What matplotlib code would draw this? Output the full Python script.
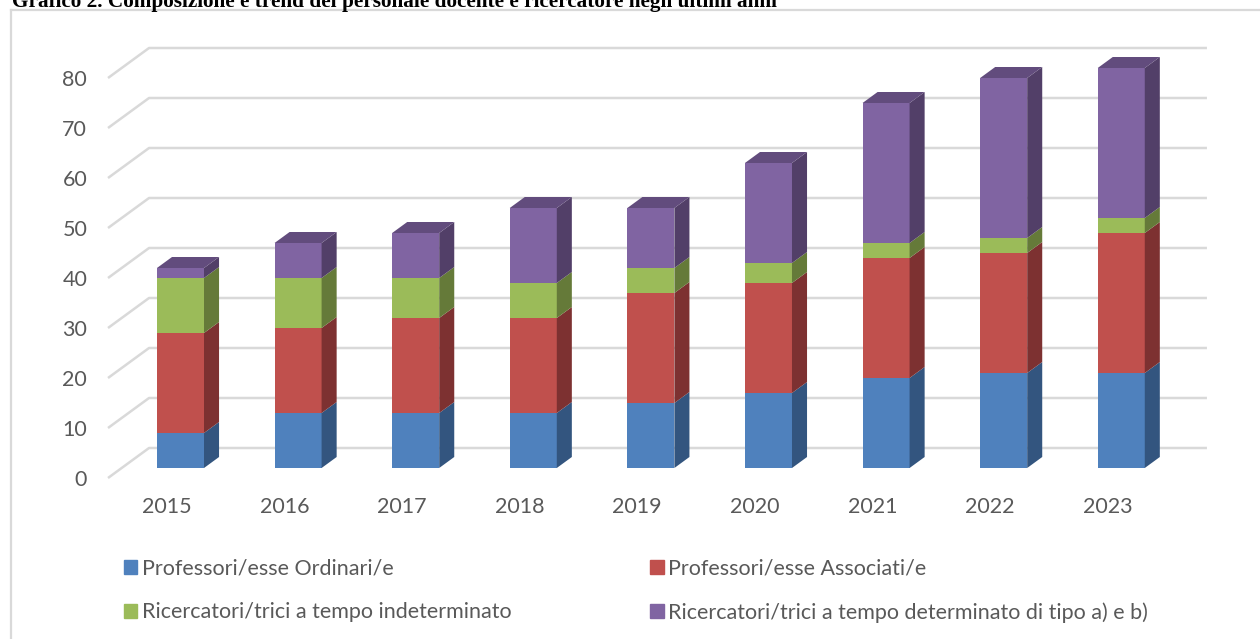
import matplotlib.pyplot as plt
from matplotlib.patches import Polygon, Patch
from matplotlib.lines import Line2D

anni = ["2015", "2016", "2017", "2018", "2019", "2020", "2021", "2022", "2023"]
ordinari = [7, 11, 11, 11, 13, 15, 18, 19, 19]
associati = [20, 17, 19, 19, 22, 22, 24, 24, 28]
indeterminato = [11, 10, 8, 7, 5, 4, 3, 3, 3]
determinato = [2, 7, 9, 15, 12, 20, 28, 32, 30]

serie = [
    ("Professori/esse Ordinari/e", ordinari, "#4F81BD", "#33557F"),
    ("Professori/esse Associati/e", associati, "#C0504D", "#7D3131"),
    ("Ricercatori/trici a tempo indeterminato", indeterminato, "#9BBB59", "#657A39"),
    ("Ricercatori/trici a tempo determinato di tipo a) e b)", determinato, "#8064A2", "#523F68"),
]
top_color = "#624C7D"

plt.rcParams["font.family"] = ["Lato", "DejaVu Sans"]
W, H = 1260, 639
fig = plt.figure(figsize=(W / 100, H / 100), dpi=100)

# chart frame (light grey box)
fig.add_artist(Line2D([11 / W, 1], [1 - 10 / H, 1 - 10 / H], color="#d9d9d9", lw=1.6))
fig.add_artist(Line2D([11 / W, 11 / W], [0, 1 - 10 / H], color="#d9d9d9", lw=1.6))
fig.text(12 / W, 1 - 7 / H, "Grafico 2. Composizione e trend del personale docente e ricercatore negli ultimi anni",
         family="Liberation Serif", weight="bold", fontsize=15.3, va="baseline", ha="left")

ax = fig.add_axes([108 / W, 1 - 478 / H, (1210 - 108) / W, (478 - 40) / H])
ax.set_xlim(-0.5, 8.871)
ax.set_ylim(0, 87.6)

# fake 3d: floor depth and bar depth
DX, DY = 0.349, 6.0
front = 1 / 3
sdx, sdy = 0.128, 2.2
width = 0.4

# walls / gridlines
for v in range(0, 90, 10):
    ax.plot([-0.5, -0.5 + DX, 8.845], [v, v + DY, v + DY], color="#d9d9d9", lw=1.8,
            zorder=1, solid_capstyle="butt", clip_on=False)

x = [i + front * DX for i in range(len(anni))]
y0 = front * DY
base = [0] * len(anni)
for k, (label, vals, col, side) in enumerate(serie):
    ax.bar(x, vals, width, bottom=[b + y0 for b in base], color=col, edgecolor="none", zorder=3)
    for i in range(len(anni)):
        xl, xr = x[i] - width / 2, x[i] + width / 2
        yb, yt = base[i] + y0, base[i] + vals[i] + y0
        ax.add_patch(Polygon([(xr, yb), (xr + sdx, yb + sdy), (xr + sdx, yt + sdy), (xr, yt)],
                             closed=True, color=side, lw=0, zorder=3))
        if k == len(serie) - 1:
            ax.add_patch(Polygon([(xl, yt), (xl + sdx, yt + sdy), (xr + sdx, yt + sdy), (xr, yt)],
                                 closed=True, color=top_color, lw=0, zorder=3))
    base = [b + v for b, v in zip(base, vals)]

ax.set_xticks(range(len(anni)), anni)
ax.set_yticks(range(0, 90, 10))
ax.tick_params(length=0, labelsize=15.5, colors="#595959")
ax.tick_params(axis="y", pad=15)
ax.tick_params(axis="x", pad=14)
for s in ax.spines.values():
    s.set_visible(False)

order = [0, 2, 1, 3]
handles = [Patch(color=serie[k][2]) for k in order]
labels = [serie[k][0] for k in order]
fig.legend(handles, labels, ncol=2, loc="upper left", bbox_to_anchor=(115 / W, 1 - 550 / H),
           frameon=False, fontsize=15.5, labelcolor="#595959", handlelength=0.62, handleheight=0.62,
           handletextpad=0.22, columnspacing=6.45, labelspacing=1.1, borderaxespad=0)

plt.savefig("out.png", dpi=100)
